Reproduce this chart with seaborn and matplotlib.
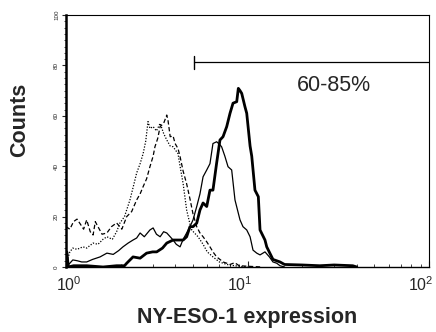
import pandas as pd
import seaborn as sns
import matplotlib
matplotlib.use("Agg")
import matplotlib.pyplot as plt
import matplotlib.transforms as mtrans
from matplotlib.ticker import MultipleLocator, FixedLocator, LogLocator, NullFormatter

# histogram traces (x = NY-ESO-1 expression, y = counts)
dash_x = [1.0, 1.05, 1.10, 1.15, 1.20, 1.25, 1.30, 1.36, 1.41, 1.45, 1.50, 1.58, 1.68, 1.78,
          1.90, 2.03, 2.16, 2.30, 2.45, 2.56, 2.66, 2.78, 2.90, 3.02, 3.09, 3.20, 3.30, 3.45,
          3.59, 3.65, 3.75, 3.89, 3.99, 4.14, 4.25, 4.42, 4.62, 4.82, 5.01, 5.25, 5.47, 5.69,
          5.96, 6.21, 6.45, 6.76, 7.05, 7.33, 7.68, 8.0, 8.5, 9.0, 10.0, 12.0]
dash_y = [16, 15, 18, 19, 17, 15, 18.7, 14, 12.7, 18, 16, 13, 13.5, 16,
          17.5, 15, 20, 22, 26.6, 29, 31.9, 35, 39.8, 44, 47.7, 51, 55.7, 57,
          60.3, 58, 51.7, 52, 49, 47, 43.8, 38, 33, 27, 21, 16, 13.5, 12,
          10, 8, 6, 4, 3, 2, 1.5, 1, 1.7, 0.5, 0.3, 0]

dot_x = [1.0, 1.02, 1.05, 1.09, 1.15, 1.24, 1.30, 1.41, 1.50, 1.60, 1.68, 1.80, 1.90, 1.98,
         2.10, 2.25, 2.35, 2.45, 2.56, 2.66, 2.75, 2.83, 2.90, 3.02, 3.15, 3.30, 3.45, 3.59,
         3.75, 3.89, 4.14, 4.25, 4.42, 4.62, 4.82, 4.93, 5.1, 5.34, 5.69, 6.0, 6.45, 7.0,
         7.7, 8.5, 10.0]
dot_y = [0, 3, 6, 7.5, 7, 8, 7.5, 9.5, 9, 11, 12, 11, 14, 17.4,
         20, 26.6, 32, 37.3, 41, 45, 50, 57.7, 55, 55.7, 54, 57, 53, 50.4,
         48, 47.7, 45, 40, 33, 22.6, 17, 14.7, 13.5, 12, 9, 6, 4, 2,
         1, 0.5, 0]

thin_x = [1.0, 1.05, 1.09, 1.15, 1.22, 1.30, 1.40, 1.54, 1.68, 1.82, 1.95, 2.06, 2.20, 2.34,
          2.45, 2.56, 2.70, 2.90, 3.02, 3.15, 3.30, 3.45, 3.59, 3.75, 3.89, 4.05, 4.25, 4.42,
          4.62, 4.82, 5.01, 5.25, 5.47, 5.69, 5.96, 6.21, 6.45, 6.76, 7.05, 7.20, 7.50, 7.81,
          8.18, 8.53, 9.09, 9.44, 9.90, 10.33, 10.72, 11.24, 11.72, 12.48, 13.2, 13.81, 14.48,
          15.1, 16.0]
thin_y = [0, 1.5, 2.8, 2.5, 2, 2, 3, 4, 5.5, 5, 6.5, 8, 9.5, 10.7,
          11.5, 13.5, 12, 14.7, 15.5, 13, 12, 14, 13.5, 12, 10.7, 9, 8, 11,
          13.5, 16, 18.7, 24, 29, 35.8, 38.5, 41, 49, 49.7, 48.5, 47.7, 44, 39.8,
          38.5, 26.6, 18.7, 16, 14.7, 12, 6.7, 5.5, 4.8, 6, 4, 2, 1.5,
          0.5, 0]

thick_x = [1.0, 1.01, 1.03, 1.1, 1.3, 1.6, 1.9, 2.1, 2.16, 2.34, 2.56, 2.78, 3.0, 3.16,
           3.40, 3.59, 3.89, 4.2, 4.42, 4.62, 4.82, 5.01, 5.25, 5.47, 5.69, 5.96, 6.21, 6.45,
           6.76, 7.05, 7.33, 7.68, 8.01, 8.32, 8.72, 8.90, 9.09, 9.29, 9.68, 9.90, 10.33, 10.55,
           10.99, 11.47, 11.72, 12.48, 12.76, 13.81, 15.1, 16.0, 20.0, 25.0, 30.0, 38.0, 40.0]
thick_y = [0, 6, 0, 0.5, 0.5, 0, 0.5, 0.5, 1.5, 4, 3.5, 5.5, 6, 6,
           7.5, 9.5, 10.7, 10.7, 10.7, 12, 16, 16, 17.4, 22.6, 25.4, 24, 30.5, 30.5,
           41.3, 50.4, 51.7, 55.7, 61, 65, 65.6, 70.9, 70, 68.9, 63.6, 61, 48, 44,
           30.5, 27.9, 14.7, 10.7, 8, 3, 2, 1, 0.8, 0.5, 0.8, 0.5, 0]

gate_start = 5.07
gate_end = 100
gate_level = 81.3
gate_label = "60-85%"

sns.set_style("ticks")
plt.rcParams["font.family"] = ["Liberation Sans", "DejaVu Sans"]
plt.rcParams["mathtext.default"] = "regular"

fig = plt.figure(figsize=(4.36, 3.32), dpi=100)
ax = fig.add_axes([0.1514, 0.1958, 0.8326, 0.759])

traces = [
    (dash_x, dash_y, 0.9, (0, (3.5, 2))),
    (dot_x, dot_y, 0.9, (0, (1, 1.3))),
    (thin_x, thin_y, 0.9, "-"),
    (thick_x, thick_y, 2.0, "-"),
]
for xs, ys, lw, ls in traces:
    df = pd.DataFrame({"expr": xs, "count": ys})
    sns.lineplot(data=df, x="expr", y="count", ax=ax, color="black",
                 linewidth=lw, linestyle=ls, sort=False, estimator=None)

# gate marker
ax.plot([gate_start, gate_end], [gate_level, gate_level], color="black", lw=0.9)
ax.plot([gate_start, gate_start], [gate_level - 2.6, gate_level + 2.6], color="black", lw=1.0)
ax.text(29.8, 72.2, gate_label, fontsize=15.5, ha="center", va="center")

ax.set_xscale("log")
ax.set_xlim(1, 100)
ax.set_ylim(0, 100)
ax.set_xticks([1, 10, 100])
ax.set_xticklabels(["$10^{0}$", "$10^{1}$", "$10^{2}$"], fontsize=11.5)
ax.xaxis.set_minor_locator(LogLocator(base=10, subs=range(2, 10)))
ax.xaxis.set_minor_formatter(NullFormatter())
ax.tick_params(axis="x", which="major", direction="in", length=4, width=0.8, pad=6)
ax.tick_params(axis="x", which="minor", direction="in", length=2, width=0.6)
# the scanned labels sit a little left of their ticks
for lab, dx in zip(ax.get_xticklabels(), [0.03, -0.08, -0.08]):
    lab.set_transform(lab.get_transform() + mtrans.ScaledTranslation(dx, 0, fig.dpi_scale_trans))

ax.yaxis.set_major_locator(FixedLocator([0, 20, 40, 60, 80, 100]))
ax.yaxis.set_minor_locator(MultipleLocator(2.5))
ax.set_yticklabels(["0", "20", "40", "60", "80", "100"], fontsize=4.5, rotation=90,
                   va="center")
ax.tick_params(axis="y", which="major", direction="out", length=3, width=0.8, pad=2)
ax.tick_params(axis="y", which="minor", direction="out", length=1.5, width=0.6)

for side in ["top", "right", "bottom", "left"]:
    ax.spines[side].set_visible(True)
    ax.spines[side].set_color("black")
ax.spines["left"].set_linewidth(1.8)
ax.spines["bottom"].set_linewidth(1.0)
ax.spines["top"].set_linewidth(0.8)
ax.spines["right"].set_linewidth(0.8)

ax.set_xlabel("NY-ESO-1 expression", fontsize=15.5, fontweight="bold", labelpad=9)
ax.set_ylabel("Counts", fontsize=15.5, fontweight="bold")
ax.yaxis.set_label_coords(-0.1, 0.583)

fig.savefig("out.png", dpi=100, facecolor="white")
